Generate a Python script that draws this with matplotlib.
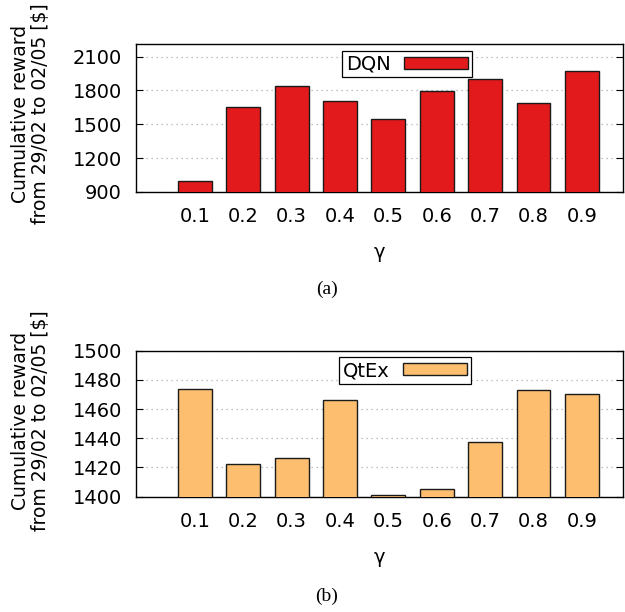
import matplotlib
matplotlib.use("Agg")
import matplotlib.pyplot as plt

# gamma values and cumulative reward
gammas = ["0.1", "0.2", "0.3", "0.4", "0.5", "0.6", "0.7", "0.8", "0.9"]
dqn = [1000, 1652, 1837, 1706, 1543, 1795, 1902, 1688, 1975]
qtex = [1473.8, 1422.3, 1426.4, 1466.4, 1401.0, 1405.0, 1437.5, 1472.9, 1470.1]

dqn_ticks = [900, 1200, 1500, 1800, 2100]
qtex_ticks = [1400, 1420, 1440, 1460, 1480, 1500]

plt.rcParams['font.family'] = ['DejaVu Sans']
plt.rcParams['font.size'] = 14

fig = plt.figure(figsize=(6.25, 6.12), dpi=100)
ax1 = fig.add_axes([0.2176, 0.6863, 0.779, 0.2418])
ax2 = fig.add_axes([0.2176, 0.1884, 0.779, 0.2386])

def panel(ax, vals, color, name, ylim, ticks, leg_x):
    x = list(range(len(gammas)))
    ax.bar(x, vals, width=0.7, color=color, edgecolor="#1a1a1a",
           linewidth=1.0, label=name, zorder=3)
    ax.set_xlim(-1.22, 8.85)
    ax.set_ylim(*ylim)
    ax.set_yticks(ticks)
    ax.set_xticks(x)
    ax.set_xticklabels(gammas)
    ax.tick_params(axis="y", direction="in", right=True, length=5, pad=10)
    ax.tick_params(axis="x", length=0, pad=11)
    ax.grid(axis="y", linestyle=(0, (1, 3)), color="#aaaaaa", linewidth=0.9, zorder=0)
    ax.set_xlabel("γ", labelpad=12)
    for s in ax.spines.values():
        s.set_linewidth(1.0)
    leg = ax.legend(loc="upper left", bbox_to_anchor=(leg_x, 0.955), borderaxespad=0,
                    markerfirst=False, fancybox=False, framealpha=1,
                    edgecolor="black", handlelength=3.3, handleheight=0.55,
                    handletextpad=0.7, borderpad=0.2)
    leg.get_frame().set_linewidth(0.9)

panel(ax1, dqn, "#e31a1c", "DQN", (900, 2212), dqn_ticks, 0.423)
panel(ax2, qtex, "#fdbf6f", "QtEx", (1400, 1500), qtex_ticks, 0.417)

ylab = "Cumulative reward\nfrom 29/02 to 02/05 [\\$]"
fig.text(0.049, 1 - 114 / 612, ylab, rotation=90, ha="center", va="center",
         multialignment="center", fontsize=13.5, linespacing=1.1)
fig.text(0.049, 1 - 421 / 612, ylab, rotation=90, ha="center", va="center",
         multialignment="center", fontsize=13.5, linespacing=1.1)

fig.text(327 / 625, 1 - 289 / 612, "(a)", ha="center", va="center",
         family="Liberation Serif", fontsize=14)
fig.text(327 / 625, 1 - 596 / 612, "(b)", ha="center", va="center",
         family="Liberation Serif", fontsize=14)

fig.savefig("out.png", dpi=100)
